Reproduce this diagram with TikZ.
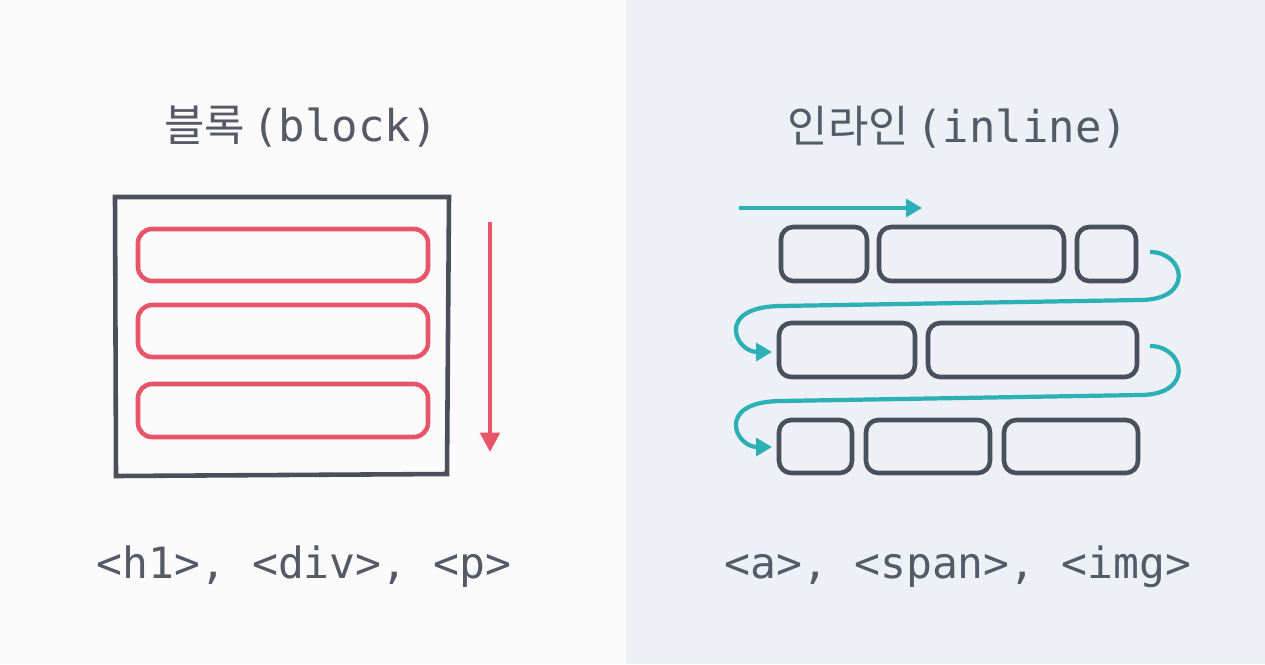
\documentclass[tikz,border=0pt]{standalone}
\usepackage{fontspec}
\setmonofont{DejaVu Sans Mono}
\newfontfamily\kr{Noto Sans CJK KR}
\usetikzlibrary{arrows.meta}
\definecolor{dk}{HTML}{4A4F5C}
\definecolor{txt}{HTML}{555A66}
\definecolor{rd}{HTML}{E8546A}
\definecolor{tl}{HTML}{2BB0B5}
\definecolor{bgr}{HTML}{EDF0F6}
\definecolor{bgl}{HTML}{FBFBFC}
\begin{document}
\begin{tikzpicture}[x=0.02cm,y=-0.02cm,
  box/.style={draw=dk,line width=2.6pt,rounded corners=7pt},
  rbox/.style={draw=rd,line width=2.6pt,rounded corners=8pt},
  flow/.style={draw=tl,line width=2.4pt,-{Triangle[length=9pt,width=10pt]}},
  ttl/.style={text=txt,font=\fontsize{25}{30}\selectfont},
  tag/.style={text=txt,font=\ttfamily\fontsize{24.5}{29}\selectfont}]
\fill[bgl] (0,0) rectangle (626,664);
\fill[bgr] (626,0) rectangle (1265,664);
\useasboundingbox (0,0) rectangle (1265,664);
% left
\node[ttl] (tl) at (301,127) {{\kr 블록}\,\texttt{(block)}};
\draw[draw=dk,line width=2.6pt] (115,197) -- (449,197) -- (447,474) -- (116,476) -- cycle;
\draw[rbox] (138,229) rectangle (428,281);
\draw[rbox] (138,305) rectangle (428,357);
\draw[rbox] (138,384) rectangle (428,437);
\coordinate (ra) at (490,222); \coordinate (rb) at (490,452);
\draw[draw=rd,line width=2.4pt,-{Triangle[length=11pt,width=11pt]}] (ra) -- (rb);
\node[tag] (bt) at (304,567) {<h1>, <div>, <p>};
% right
\node[ttl] (tr) at (958,127) {{\kr 인라인}\,\texttt{(inline)}};
\coordinate (a1) at (739,208); \coordinate (a2) at (922,208);
\draw[flow] (a1) -- (a2);
\draw[box] (781,227) rectangle (867,281);
\draw[box] (879,227) rectangle (1064,281);
\draw[box] (1077,227) rectangle (1136,281);
\draw[box] (779,323) rectangle (915,377);
\draw[box] (928,323) rectangle (1137,377);
\draw[box] (779,420) rectangle (852,473);
\draw[box] (866,420) rectangle (990,473);
\draw[box] (1004,420) rectangle (1138,473);
\coordinate (s1) at (1150,252); \coordinate (e1) at (772,352);
\draw[flow] (s1) .. controls (1185,252) and (1195,300) .. (1140,300)
  -- (780,306) .. controls (715,307) and (735,352) .. (e1);
\coordinate (s2) at (1150,346); \coordinate (e2) at (772,447);
\draw[flow] (s2) .. controls (1185,346) and (1195,395) .. (1140,395)
  -- (780,401) .. controls (715,402) and (735,447) .. (e2);
\node[tag] (rt) at (958,567) {<a>, <span>, <img>};
\end{tikzpicture}
\end{document}
